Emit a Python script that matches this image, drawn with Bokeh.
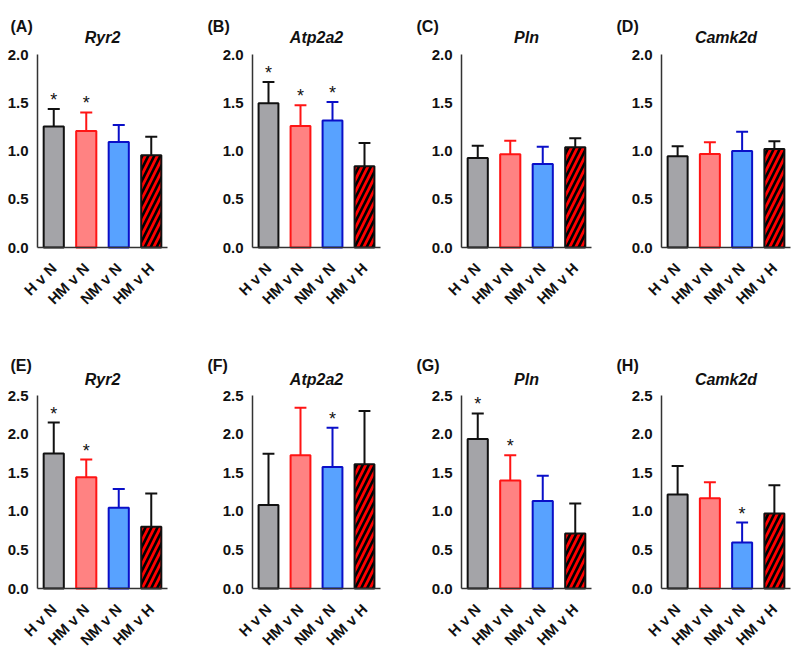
import math
from bokeh.plotting import figure
from bokeh.models import Label, FixedTicker, NumeralTickFormatter, Range1d
from bokeh.layouts import gridplot
from bokeh.embed import file_html
from bokeh.resources import INLINE
from bokeh.core.properties import value

# ---------------- data ----------------
categories = ["H v N", "HM v N", "NM v N", "HM v H"]
genes = ["Ryr2", "Atp2a2", "Pln", "Camk2d"]
panel_letters = ["(A)", "(B)", "(C)", "(D)", "(E)", "(F)", "(G)", "(H)"]
row_ymax = [2.0, 2.5]
y_ticks_top = [0.0, 0.5, 1.0, 1.5, 2.0]
y_ticks_bottom = [0.0, 0.5, 1.0, 1.5, 2.0, 2.5]

mean_A = [1.255, 1.206, 1.093, 0.955]
upper_A = [1.436, 1.400, 1.270, 1.147]
sig_A = [1, 1, 0, 0]

mean_B = [1.495, 1.258, 1.316, 0.842]
upper_B = [1.715, 1.474, 1.509, 1.082]
sig_B = [1, 1, 1, 0]

mean_C = [0.928, 0.966, 0.866, 1.038]
upper_C = [1.055, 1.107, 1.045, 1.131]
sig_C = [0, 0, 0, 0]

mean_D = [0.945, 0.970, 1.000, 1.020]
upper_D = [1.050, 1.090, 1.200, 1.100]
sig_D = [0, 0, 0, 0]

mean_E = [1.750, 1.440, 1.047, 0.800]
upper_E = [2.150, 1.670, 1.290, 1.230]
sig_E = [1, 1, 0, 0]

mean_F = [1.080, 1.725, 1.575, 1.609]
upper_F = [1.747, 2.340, 2.083, 2.300]
sig_F = [0, 0, 1, 0]

mean_G = [1.936, 1.398, 1.132, 0.714]
upper_G = [2.268, 1.725, 1.459, 1.100]
sig_G = [1, 1, 0, 0]

mean_H = [1.216, 1.170, 0.595, 0.970]
upper_H = [1.586, 1.375, 0.854, 1.336]
sig_H = [0, 0, 1, 0]

panels = [
    (mean_A, upper_A, sig_A), (mean_B, upper_B, sig_B),
    (mean_C, upper_C, sig_C), (mean_D, upper_D, sig_D),
    (mean_E, upper_E, sig_E), (mean_F, upper_F, sig_F),
    (mean_G, upper_G, sig_G), (mean_H, upper_H, sig_H),
]

# ---------------- styles / layout ----------------
fill_colors = ["#A4A4A8", "#FF8282", "#58A2FF", "#FF0000"]
line_colors = ["#111111", "#FF1414", "#0A0FC8", "#111111"]
hatched = [False, False, False, True]

FONT = "Liberation Sans"
col_width = [198, 200, 200, 194]      # figure widths
bar_left = [37, 54, 63, 63]           # px from figure left to the y axis
bar_width_px = [130, 128, 130, 129]   # px width of the bar area
label_dx = [-27, -45, -45, -45]       # panel letter offset from y axis
row_height = [330, 320]
row_bottom = [83, 62]                 # px below the x axis line
letter_dy = [28, 30]
title_dy = [17, 16]
area_h = 193
BAR_W = 0.62
CAP_HALF = 0.185


def make_panel(idx):
    r, c = divmod(idx, 4)
    mean, upper, sig = panels[idx]
    ymax = row_ymax[r]
    w, h = col_width[c], row_height[r]
    u = bar_width_px[c] / 4.0
    x0 = -0.5 - bar_left[c] / u
    x1 = 3.5 + (w - bar_left[c] - bar_width_px[c]) / u
    v = area_h / ymax
    y0 = -row_bottom[r] / v
    y1 = ymax + (h - row_bottom[r] - area_h) / v

    p = figure(width=w, height=h,
               x_range=Range1d(x0, x1), y_range=Range1d(y0, y1),
               min_border_left=0, min_border_right=0,
               min_border_top=0, min_border_bottom=0,
               output_backend="svg", toolbar_location=None)
    p.outline_line_color = None
    p.xgrid.visible = False
    p.ygrid.visible = False

    xs = list(range(len(categories)))
    plain = [i for i in xs if not hatched[i]]
    hat = [i for i in xs if hatched[i]]

    p.vbar(x=[xs[i] for i in plain], top=[mean[i] for i in plain], bottom=0,
           width=BAR_W,
           fill_color=[fill_colors[i] for i in plain],
           line_color=[line_colors[i] for i in plain], line_width=2)
    p.vbar(x=[xs[i] for i in hat], top=[mean[i] for i in hat], bottom=0,
           width=BAR_W,
           fill_color=[fill_colors[i] for i in hat],
           line_color=[line_colors[i] for i in hat], line_width=2,
           hatch_pattern="/", hatch_color="#000000",
           hatch_weight=2.6, hatch_scale=12)

    # upper error bars
    p.segment(x0=xs, y0=mean, x1=xs, y1=upper, line_color=line_colors,
              line_width=2)
    p.segment(x0=[x - CAP_HALF for x in xs], y0=upper,
              x1=[x + CAP_HALF for x in xs], y1=upper,
              line_color=line_colors, line_width=2)

    # significance stars
    sx = [xs[i] for i in xs if sig[i]]
    sy = [upper[i] for i in xs if sig[i]]
    if sx:
        p.text(x=sx, y=sy, text=["*"] * len(sx), text_align="center",
               text_baseline="alphabetic", y_offset=-9,
               text_font=value(FONT), text_font_size="18px",
               text_color="#111111")

    # axes
    p.xaxis.ticker = FixedTicker(ticks=xs)
    p.xaxis.major_label_overrides = {i: categories[i] for i in xs}
    p.xaxis.major_label_orientation = math.pi / 4
    p.xaxis.bounds = (-0.5, 3.5)
    p.xaxis.fixed_location = 0
    p.yaxis.ticker = FixedTicker(ticks=y_ticks_top if r == 0 else y_ticks_bottom)
    p.yaxis.formatter = NumeralTickFormatter(format="0.0")
    p.yaxis.bounds = (0, ymax)
    p.yaxis.fixed_location = -0.5
    for ax in (p.xaxis, p.yaxis):
        ax.axis_line_color = "#333333"
        ax.axis_line_width = 1.5
        ax.major_tick_line_color = None
        ax.minor_tick_line_color = None
        ax.major_label_text_font = FONT
        ax.major_label_text_font_style = "bold"
        ax.major_label_text_color = "#111111"
    p.yaxis.major_label_text_font_size = "15px"
    p.xaxis.major_label_text_font_size = "15px"
    p.yaxis.major_label_standoff = 3
    p.xaxis.major_label_standoff = 12

    # panel letter and gene title (inside the extended frame)
    p.add_layout(Label(x=-0.5, y=ymax, x_offset=label_dx[c],
                       y_offset=letter_dy[r],
                       text=panel_letters[idx], text_align="left",
                       text_baseline="alphabetic", text_font=FONT,
                       text_font_style="bold", text_font_size="16px",
                       text_color="#111111"))
    p.add_layout(Label(x=1.5, y=ymax, y_offset=title_dy[r], text=genes[c],
                       text_align="center", text_baseline="alphabetic",
                       text_font=FONT, text_font_style="bold italic",
                       text_font_size="16px", text_color="#111111"))
    return p


figs = [make_panel(i) for i in range(8)]
grid = gridplot([figs[:4], figs[4:]], toolbar_location=None)
open("out.html", "w").write(file_html(grid, INLINE))
